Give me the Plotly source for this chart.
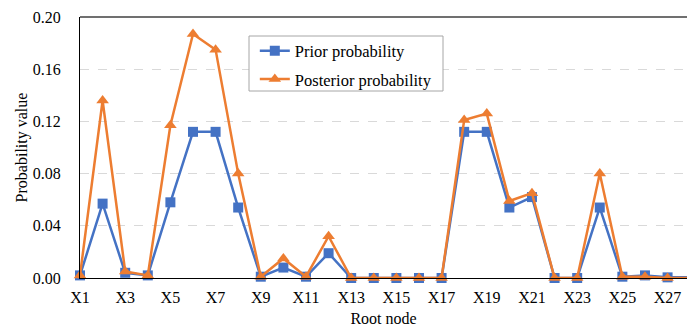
import plotly.graph_objects as go

categories = [f"X{i}" for i in range(1, 29)]
prior = [0.002, 0.057, 0.004, 0.002, 0.058, 0.112, 0.112, 0.054, 0.001, 0.008,
         0.001, 0.019, 0.0, 0.0, 0.0, 0.0, 0.0, 0.112, 0.112, 0.054,
         0.062, 0.0, 0.0, 0.054, 0.001, 0.002, 0.0005, 0.0005]
posterior = [0.002, 0.136, 0.005, 0.002, 0.117, 0.187, 0.175, 0.080, 0.001, 0.015,
             0.001, 0.032, 0.0, 0.0, 0.0, 0.0, 0.0, 0.121, 0.126, 0.059,
             0.065, 0.0, 0.0, 0.080, 0.001, 0.001, 0.0, 0.0]
x_ticks = categories[0::2][:14]
y_ticks = [0.0, 0.04, 0.08, 0.12, 0.16, 0.20]
y_tick_text = ["0.00", "0.04", "0.08", "0.12", "0.16", "0.20"]

FONT = "Liberation Serif, Times New Roman, serif"

fig = go.Figure()
fig.add_trace(go.Scatter(
    x=categories, y=prior, name="Prior probability", mode="lines+markers",
    legendgroup="prior",
    line=dict(color="#4472C4", width=2.5),
    marker=dict(symbol="square", size=10, color="#4472C4"),
    cliponaxis=False,
))
fig.add_trace(go.Scatter(
    x=categories, y=posterior, name="Posterior probability", mode="lines+markers",
    legendgroup="posterior",
    line=dict(color="#ED7D31", width=2.5),
    marker=dict(symbol="triangle-up", size=11, color="#ED7D31"),
    cliponaxis=False,
))

fig.update_layout(
    width=687, height=327,
    margin=dict(l=80, r=0, t=17, b=49),
    paper_bgcolor="white", plot_bgcolor="white",
    font=dict(family=FONT, size=16, color="black"),
    showlegend=True,
    legend=dict(
        x=0.288, y=0.937, xanchor="left", yanchor="top",
        bgcolor="rgba(0,0,0,0)", borderwidth=0,
        font=dict(family=FONT, size=16.5, color="black"),
        traceorder="grouped", tracegroupgap=4, itemwidth=30,
    ),
    xaxis=dict(
        type="category", categoryorder="array", categoryarray=categories,
        range=[0, 26.86], tickmode="array", tickvals=x_ticks, ticktext=x_ticks,
        showline=True, linecolor="black", linewidth=1.3,
        showgrid=False, ticks="outside", ticklen=5, tickcolor="rgba(0,0,0,0)",
        automargin=False,
        title=dict(text="Root node", font=dict(family=FONT, size=16), standoff=7),
        tickfont=dict(family=FONT, size=16),
    ),
    yaxis=dict(
        range=[0, 0.2], tickmode="array", tickvals=y_ticks, ticktext=y_tick_text,
        showline=True, linecolor="black", linewidth=1.3,
        showgrid=True, gridcolor="#D9D9D9", griddash="dash", gridwidth=1,
        zeroline=False, ticks="outside", ticklen=15, tickcolor="rgba(0,0,0,0)",
        automargin=False,
        title=dict(text="Probability value", font=dict(family=FONT, size=16), standoff=1),
        tickfont=dict(family=FONT, size=16),
    ),
    shapes=[
        dict(type="line", xref="paper", yref="paper", x0=0, x1=1, y0=1, y1=1,
             line=dict(color="#404040", width=1.3)),
        dict(type="rect", xref="paper", yref="paper",
             x0=(249 - 80) / 607, x1=(443 - 80) / 607,
             y0=(278 - 91) / 261, y1=(278 - 36) / 261,
             fillcolor="white", line=dict(color="#A6A6A6", width=1), layer="above"),
    ],
)

fig.write_html("out.html", config={"displayModeBar": False},
               post_script="document.body.style.margin='0';document.body.style.padding='0';")
